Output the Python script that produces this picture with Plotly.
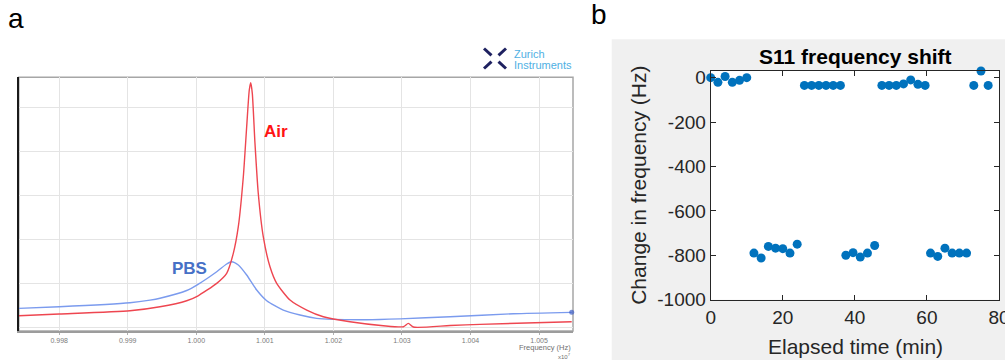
import plotly.graph_objects as go

# ---- Panel a: resonance sweeps (frequency in units of 1e7 Hz, amplitude in grid divisions)
pbs_freq = [0.997411, 0.998001, 0.999033, 0.999325, 0.999470, 0.999860, 1.000020,
            1.000298, 1.000443, 1.000516, 1.000613, 1.000735, 1.000881, 1.001027,
            1.001269, 1.001513, 1.001756, 1.001999, 1.002486, 1.002972, 1.003701,
            1.004624, 1.005476]
pbs_amp = [0.425, 0.461, 0.552, 0.612, 0.655, 0.830, 0.965,
           1.257, 1.432, 1.484, 1.409, 1.182, 0.841, 0.598,
           0.386, 0.273, 0.198, 0.175, 0.166, 0.186, 0.234,
           0.302, 0.334]

air_freq = [0.997411, 0.998001, 0.999033, 0.999470, 0.999860, 1.000020, 1.000298,
            1.000443, 1.000540, 1.000613, 1.000686, 1.000735, 1.000773, 1.000794,
            1.000817, 1.000856, 1.000904, 1.000977, 1.001075, 1.001173, 1.001367,
            1.001611, 1.001853, 1.002242, 1.002728, 1.003020, 1.003093, 1.003166,
            1.003701, 1.004139, 1.005476]
air_amp = [0.257, 0.295, 0.370, 0.461, 0.598, 0.705, 0.993,
           1.220, 1.675, 2.280, 3.416, 4.552, 5.386, 5.552,
           5.311, 4.175, 3.039, 2.052, 1.370, 0.993, 0.614,
           0.386, 0.234, 0.120, 0.030, 0.007, 0.084, 0.000,
           0.034, 0.061, 0.120]

freq_ticks = [0.998, 0.999, 1.000, 1.001, 1.002, 1.003, 1.004, 1.005]
freq_labels = ["0.998", "0.999", "1.000", "1.001", "1.002", "1.003", "1.004", "1.005"]

# ---- Panel b: S11 frequency shift over time
elapsed_min = [0, 2, 4, 6, 8, 10,
               12, 14, 16, 18, 20, 22, 24,
               26, 28, 30, 32, 34, 36,
               37.5, 39.5, 41.5, 43.5, 45.5,
               47.5, 49.5, 51.5, 53.5, 55.5, 57.5, 59.5,
               61, 63, 65, 67, 69, 71,
               73, 75, 77]
shift_hz = [0, -21, 5, -21, -12, 0,
            -790, -812, -760, -768, -770, -790, -750,
            -35, -35, -35, -35, -35, -35,
            -800, -788, -808, -790, -756,
            -35, -35, -35, -28, -10, -30, -35,
            -790, -805, -768, -790, -790, -790,
            -35, 30, -35]

time_ticks = [0, 20, 40, 60, 80]
shift_ticks = [-1000, -800, -600, -400, -200, 0]
shift_labels = ["-1000", "-800", "-600", "-400", "-200", "0"]

W, H = 1005, 360


def px(x):
    return x / W


def py(y):
    return 1 - y / H


fig = go.Figure()

# the PBS trace carries a small cursor dot on its last sample
pbs_dot = [0] * (len(pbs_freq) - 1) + [5]
fig.add_trace(go.Scatter(x=pbs_freq, y=pbs_amp, mode="lines+markers",
                         line=dict(color="#7B9BEE", width=1.4, shape="spline", smoothing=0.6),
                         marker=dict(size=pbs_dot, color="#3F5FC8", line=dict(width=0)),
                         cliponaxis=False, xaxis="x", yaxis="y", hoverinfo="skip"))
fig.add_trace(go.Scatter(x=air_freq, y=air_amp, mode="lines",
                         line=dict(color="#EE4650", width=1.4, shape="spline", smoothing=0.6),
                         xaxis="x", yaxis="y", hoverinfo="skip"))

fig.add_trace(go.Scatter(x=elapsed_min, y=shift_hz, mode="markers",
                         marker=dict(color="#0072BD", size=9, line=dict(width=0)),
                         cliponaxis=False, xaxis="x2", yaxis="y2", hoverinfo="skip"))

grid = "#E4E4E4"
sans = "Liberation Sans, Arial, sans-serif"
matlab_font = dict(family=sans, color="#262626")

fig.update_layout(
    width=W, height=H,
    margin=dict(l=0, r=0, t=0, b=0, pad=0, autoexpand=False),
    paper_bgcolor="white", plot_bgcolor="white",
    showlegend=False,
    xaxis=dict(domain=[px(18.8), px(573)], range=[0.997411, 1.005495],
               tickvals=freq_ticks, ticktext=freq_labels,
               tickfont=dict(size=7, color="#7A7A7A", family=sans),
               showgrid=True, gridcolor=grid, gridwidth=1,
               showline=True, linecolor="#9C9C9C", linewidth=1.5,
               ticks="outside", ticklen=2, tickcolor="#B0B0B0",
               zeroline=False, anchor="y", automargin=False, fixedrange=True),
    yaxis=dict(domain=[py(331), py(77.3)], range=[-0.09, 5.675],
               tick0=0, dtick=1, showticklabels=False,
               showgrid=True, gridcolor=grid, gridwidth=1,
               showline=True, linecolor="#1A1A1A", linewidth=2,
               ticks="", zeroline=False, anchor="x", automargin=False, fixedrange=True),
    xaxis2=dict(domain=[px(710.7), px(999)], range=[0, 80],
                tickvals=time_ticks, ticks="inside", ticklen=5,
                tickcolor="#262626", showline=True, linecolor="#262626", linewidth=1,
                mirror="ticks", showgrid=False, zeroline=False,
                tickfont=dict(size=19, **matlab_font), ticklabeloverflow="allow",
                anchor="y2", automargin=False, fixedrange=True),
    yaxis2=dict(domain=[py(299.7), py(71)], range=[-1000, 30],
                tickvals=shift_ticks, ticktext=shift_labels, ticks="inside", ticklen=5,
                tickcolor="#262626", showline=True, linecolor="#262626", linewidth=1,
                mirror="ticks", showgrid=False, zeroline=False,
                tickfont=dict(size=19, **matlab_font), ticklabeloverflow="allow",
                anchor="x2", automargin=False, fixedrange=True),
)

shapes = [
    # MATLAB-style figure background behind panel b
    dict(type="rect", xref="paper", yref="paper", x0=px(611.7), x1=1, y0=0, y1=py(39.3),
         fillcolor="#F0F0F0", line=dict(width=0), layer="below"),
    dict(type="rect", xref="x2 domain", yref="y2 domain", x0=0, x1=1, y0=0, y1=1,
         fillcolor="white", line=dict(width=0), layer="below"),
    # frame around panel a
    dict(type="rect", xref="x domain", yref="y domain", x0=0, x1=1, y0=0, y1=1,
         line=dict(color="#A6A6A6", width=1.5), fillcolor="rgba(0,0,0,0)", layer="below"),
]

# Zurich Instruments mark: four strokes pointing to a common centre
cx, cy = 495, 58.5
for sx, sy in [(-1, -1), (1, -1), (-1, 1), (1, 1)]:
    shapes.append(dict(type="line", xref="paper", yref="paper",
                       x0=px(cx + sx * 11), y0=py(cy + sy * 10),
                       x1=px(cx + sx * 3.5), y1=py(cy + sy * 3.2),
                       line=dict(color="#1E2160", width=3)))
fig.update_layout(shapes=shapes)


def label(text, x, y, size, color, xanchor="center", angle=0, family=sans):
    return dict(text=text, x=px(x), y=py(y), xref="paper", yref="paper",
                xanchor=xanchor, yanchor="middle", textangle=angle, showarrow=False,
                font=dict(size=size, color=color, family=family))


annotations = [
    label("a", 16, 18, 28, "black"),
    label("b", 598.5, 15, 28, "black"),
    label("Zurich", 512, 53.5, 11, "#4FB0E3", xanchor="left"),
    label("Instruments", 512, 65, 11, "#4FB0E3", xanchor="left"),
    label("<b>Air</b>", 276, 131, 17, "#FF1414"),
    label("<b>PBS</b>", 189, 268, 17, "#4670C6"),
    label("Frequency (Hz)", 573, 347, 7.5, "#707070", xanchor="right"),
    label("x10<sup>7</sup>", 573, 356, 6, "#707070", xanchor="right"),
    label("<b>S11 frequency shift</b>", 855.5, 56.7, 21, "black"),
    label("Elapsed time (min)", 855.5, 346.7, 21, "#262626"),
    label("Change in frequency (Hz)", 638.3, 185.5, 21, "#262626", angle=-90),
]
fig.update_layout(annotations=annotations)

fig.write_html("out.html")
